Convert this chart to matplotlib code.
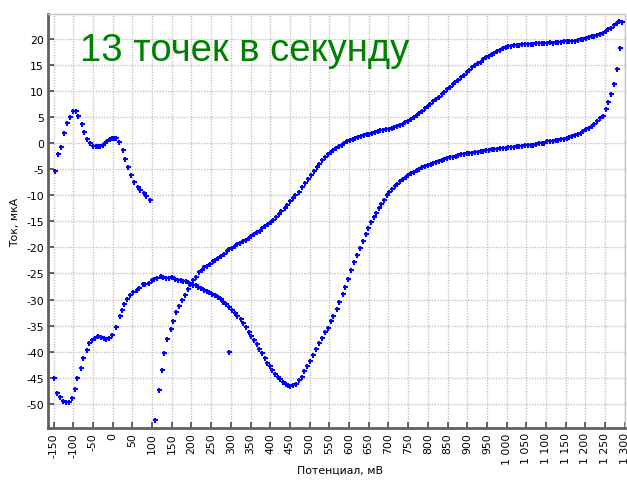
import matplotlib
matplotlib.use("Agg")
import matplotlib.pyplot as plt

# ---- data (mV, uA) ----
start_x = [-146.2, -137.7, -131.8, -123.4, -116.6, -108.1, -99.7, -92.9, -87.0, -78.5, -72.6, -64.1,
           -58.2, -49.7, -43.0, -36.2, -31.2, -25.2, -19.3, -13.5, -7.4, -2.3, 3.6, 9.4, 16.2, 25.6,
           31.5, 40.0, 46.7, 55.0, 63.7, 70.3, 78.9, 85.5, 94.9]
start_y = [-5.3, -2.2, -0.8, 1.9, 3.8, 5.0, 6.1, 6.1, 5.2, 3.6, 2.1, 0.8,
           -0.1, -0.6, -0.6, -0.6, -0.5, -0.3, -0.1, 0.3, 0.7, 0.9, 1.0, 1.0, 0.1, -1.3,
           -3.1, -4.6, -6.1, -7.5, -8.5, -9.0, -9.6, -10.2, -10.9]

fwd_x = [-148.7, -140.2, -133.5, -125.1, -119.1, -110.7, -103.8, -95.4, -89.6, -81.0, -74.4, -65.7,
         -59.1, -51.5, -44.7, -36.3, -29.4, -22.6, -16.0, -8.4, -0.8, 7.9, 18.8, 23.1, 28.9, 36.5,
         44.2, 51.8, 61.2, 67.8, 76.4, 82.2, 91.6,
         99.2, 105.8, 113.5, 122.0, 128.7, 135.5, 143.1, 150.0, 157.6, 165.2, 172.8, 179.4, 186.3,
         194.7, 204.9, 210.9, 217.5, 224.4, 231.2, 238.8, 244.7, 253.0, 260.7, 268.3, 274.4, 281.0,
         288.6, 295.4, 302.3, 309.9, 316.5, 325.1, 331.7, 339.3, 346.2, 352.0, 358.9, 365.7, 372.3,
         379.2, 386.0, 392.6, 398.7, 405.3, 412.2, 419.0, 425.6, 432.5, 440.1, 445.2, 450.3,
         457.1, 464.7, 472.3, 480.0, 486.5, 494.2, 501.0, 509.4, 516.2, 523.9, 530.7, 539.1, 545.9,
         553.6, 560.2, 568.8, 574.6, 584.0, 589.8, 598.2, 604.3, 613.5, 620.3,
         627.9, 634.6, 642.3, 649.0, 655.8, 662.6,
         668.5, 675.3, 682.0, 688.8, 695.6, 702.4, 709.0, 716.0, 723.0, 730.0, 736.6, 743.8, 750.6,
         757.4, 764.5, 771.8, 778.5, 786.2, 792.9, 799.7,
         807.3, 814.1, 820.8, 828.4, 835.2, 842.0, 849.6, 856.4, 863.1, 870.7, 877.5, 884.3, 891.9,
         898.7, 905.4, 913.0, 919.8, 926.6, 934.2, 941.0, 947.7, 955.3, 962.1, 968.9, 976.5, 983.3,
         990.0, 997.6, 1004.4, 1011.2, 1018.8, 1025.6, 1032.3, 1039.9, 1046.7, 1053.5, 1061.1,
         1067.9, 1074.6, 1082.2, 1089.0, 1095.8, 1103.4, 1110.2, 1116.9, 1124.5, 1131.3, 1138.1,
         1145.7, 1152.5, 1159.2, 1166.8, 1173.6, 1180.4, 1188.0, 1194.8, 1201.5, 1209.1, 1215.9,
         1222.7, 1230.3, 1237.1, 1243.8, 1252.2, 1258.2, 1265.0, 1272.6, 1279.3, 1287.8]
fwd_y = [-45.1, -47.9, -48.7, -49.5, -49.7, -49.7, -48.9, -47.1, -45.1, -43.2, -41.1, -39.6,
         -38.4, -37.8, -37.4, -37.0, -37.1, -37.4, -37.5, -37.3, -36.7, -35.3, -33.1, -32.0, -30.8, -29.9,
         -29.1, -28.5, -28.1, -27.7, -27.1, -27.1, -26.9,
         -26.2, -26.1, -25.9, -25.4, -25.7, -25.9, -25.9, -25.7, -26.1, -26.2, -26.3, -26.4, -26.4,
         -26.8, -27.2, -27.3, -27.5, -27.8, -28.1, -28.4, -28.6, -28.9, -29.1, -29.6, -29.9, -30.5,
         -30.9, -31.5, -32.0, -32.5, -33.1, -33.8, -34.5, -35.3, -36.3, -37.0, -37.8, -38.6, -39.5,
         -40.3, -41.2, -42.1, -42.7, -43.4, -44.3, -44.9, -45.3, -45.8, -46.2, -46.4, -46.5,
         -46.3, -46.1, -45.5, -44.8, -43.7, -42.8, -41.7, -40.6, -39.5, -38.3, -37.4, -36.2, -35.4,
         -34.2, -33.2, -31.8, -30.4, -28.9, -27.5, -26.0, -24.4, -22.8, -21.5,
         -20.1, -18.8, -17.4, -16.3, -15.2, -14.1,
         -13.5, -12.5, -11.65, -10.85, -10.05, -9.45, -8.85, -8.3, -7.8, -7.35, -6.95, -6.55, -6.2,
         -5.85, -5.55, -5.25, -4.95, -4.7, -4.45, -4.25,
         -4.0, -3.8, -3.6, -3.4, -3.2, -3.1, -2.9, -2.7, -2.6, -2.5, -2.4, -2.2, -2.1,
         -2.0, -2.0, -1.9, -1.7, -1.7, -1.5, -1.5, -1.4, -1.3, -1.2, -1.2, -1.1, -1.0,
         -1.0, -0.9, -0.8, -0.8, -0.7, -0.6, -0.6, -0.5, -0.4, -0.4, -0.3,
         -0.3, -0.2, -0.1, -0.1, 0.0, 0.3, 0.3, 0.4, 0.5, 0.6, 0.7,
         0.8, 0.9, 1.1, 1.3, 1.5, 1.7, 2.0, 2.2, 2.6, 2.9, 3.3,
         3.7, 4.2, 4.7, 5.2, 6.5, 7.8, 9.3, 11.2, 14.2, 18.1]

rev_x = [1292.0, 1286.1, 1279.3, 1272.6, 1264.9, 1258.2, 1251.4, 1243.8, 1237.0, 1230.3, 1222.6,
         1215.9, 1209.1, 1201.5, 1194.7, 1188.0, 1180.3, 1173.6, 1166.8, 1159.2, 1152.4, 1145.7,
         1138.0, 1131.3, 1124.5, 1116.9, 1110.1, 1103.4, 1095.7, 1089.0, 1082.2, 1074.6, 1067.8,
         1061.1, 1053.4, 1046.7, 1039.9, 1032.3, 1025.5, 1018.8, 1011.1, 1004.4, 997.6, 990.0,
         983.2, 976.5, 968.8, 962.1, 955.3, 947.7, 940.9, 934.2, 926.5, 919.8, 913.0,
         905.4, 898.6, 891.0, 884.2, 877.5, 869.8, 863.1, 856.3, 848.7, 841.9, 835.2, 827.5, 820.8,
         814.0, 806.4, 799.6, 792.9, 785.2, 778.5, 771.7, 764.1, 757.3, 750.6, 743.0, 736.2, 729.4,
         721.8, 715.0, 708.3, 700.6, 693.9, 687.1, 679.5, 672.7, 666.0, 658.3, 651.6, 644.8, 637.2,
         630.4, 623.7, 616.0, 609.3, 602.5, 594.9, 588.1, 581.4, 574.6, 567.8, 560.2, 553.4, 546.7,
         539.0, 532.3, 524.7, 517.9, 510.3, 502.7, 495.9, 488.3, 479.8,
         472.3, 463.7, 457.1, 450.3, 442.6, 436.8, 428.2, 421.6, 414.7, 407.9, 401.3, 393.7, 386.8,
         380.0, 373.4, 366.5, 358.9, 352.0, 345.4, 338.6, 330.2, 323.4, 316.5, 309.9, 303.0, 296.2,
         289.6, 282.0, 275.1, 268.3, 260.7, 254.1, 247.2, 240.4, 232.7, 226.1, 219.3, 210.9,
         204.8, 197.2, 190.6, 183.0, 176.1, 169.3, 161.7, 153.3, 147.5, 138.1, 130.5, 124.6, 117.8,
         107.6]
rev_y = [23.2, 23.4, 23.0, 22.5, 22.0, 21.8, 21.5, 21.1, 20.9, 20.6, 20.4,
         20.4, 20.2, 20.1, 20.0, 19.9, 19.7, 19.6, 19.5, 19.5, 19.5, 19.5,
         19.4, 19.3, 19.3, 19.2, 19.3, 19.2, 19.2, 19.1, 19.1, 19.1, 19.0,
         19.0, 19.0, 19.0, 18.9, 18.8, 18.8, 18.8, 18.6, 18.5, 18.3, 18.1,
         17.9, 17.6, 17.3, 17.0, 16.7, 16.4, 16.0, 15.6, 15.3, 14.9, 14.5,
         14.0, 13.5, 13.1, 12.6, 12.1, 11.6, 11.2, 10.8, 10.3, 9.8, 9.3, 8.8, 8.4,
         8.0, 7.5, 7.1, 6.7, 6.2, 5.8, 5.4, 4.9, 4.6, 4.2, 4.0, 3.7, 3.5,
         3.3, 3.1, 2.9, 2.7, 2.6, 2.5, 2.4, 2.2, 2.1, 2.0, 1.8, 1.7, 1.5,
         1.3, 1.2, 1.0, 0.8, 0.6, 0.4, 0.0, -0.3, -0.6, -1.0, -1.3, -1.8, -2.2,
         -2.7, -3.3, -4.0, -4.7, -5.4, -6.1, -6.9, -7.7, -8.5,
         -9.3, -10.0, -10.6, -11.2, -11.9, -12.5, -13.1, -13.7, -14.2, -14.7, -15.1, -15.6, -16.0,
         -16.3, -16.8, -17.1, -17.5, -17.9, -18.3, -18.5, -18.8, -19.1, -19.3, -19.7, -20.1, -20.4,
         -20.7, -21.3, -21.6, -22.0, -22.4, -22.7, -23.1, -23.5, -23.8, -24.3, -24.8, -25.7,
         -26.2, -27.0, -28.0, -29.1, -30.0, -31.2, -32.4, -34.1, -35.6, -37.6, -40.3, -43.4, -47.4,
         -53.1]

odd_x = [295.4]
odd_y = [-40.1]

x_ticks = list(range(-150, 1301, 50))
x_tick_labels = ["-150", "-100", "-50", "0", "50", "100", "150", "200", "250", "300", "350",
                 "400", "450", "500", "550", "600", "650", "700", "750", "800", "850", "900",
                 "950", "1 000", "1 050", "1 100", "1 150", "1 200", "1 250", "1 300"]
y_ticks = list(range(-50, 21, 5))
y_tick_labels = [str(v) for v in y_ticks]

title_text = "13 точек в секунду"
x_label = "Потенциал, мВ"
y_label = "Ток, мкА"

# ---- figure ----
W, H = 627, 481
fig = plt.figure(figsize=(W / 100, H / 100), dpi=100)
fig.patch.set_facecolor("white")
L, R, T, B = 48, 625, 15, 429
ax = fig.add_axes([L / W, 1 - B / H, (R - L) / W, (B - T) / H])
ax.set_xlim(-164, 1300.5)
ax.set_ylim(-54.6, 24.7)

for xs, ys in ((start_x, start_y), (fwd_x, fwd_y), (rev_x, rev_y), (odd_x, odd_y)):
    ax.plot(xs, ys, linestyle="none", marker="+", markersize=3.6, markeredgewidth=1.5,
            color="#0000ff", zorder=3)

ax.set_xticks(x_ticks)
ax.set_xticklabels(x_tick_labels, rotation=90, fontsize=7.8, family="DejaVu Sans")
ax.set_yticks(y_ticks)
ax.set_yticklabels(y_tick_labels, fontsize=7.8, family="DejaVu Sans")
ax.tick_params(direction="in", length=4, width=1.3, color="#555555", pad=3, labelcolor="black")

ax.grid(True, color="#c4c4c4", linestyle=(0, (1, 1)), linewidth=1.0, zorder=0)
for s in ("left", "bottom"):
    ax.spines[s].set_color("#606060")
    ax.spines[s].set_linewidth(2.0)
for s in ("top", "right"):
    ax.spines[s].set_color("#c4c4c4")
    ax.spines[s].set_linestyle((0, (1, 1)))
    ax.spines[s].set_linewidth(1.0)

ax.set_ylabel(y_label, fontsize=7.8, family="DejaVu Sans", labelpad=4)
fig.text(340 / W, 1 - 471 / H, x_label, fontsize=7.8, family="DejaVu Sans",
         ha="center", va="center")

fig.text(80 / W, 1 - 61 / H, title_text, color="#008000", fontsize=27.5,
         family="Liberation Sans", va="baseline", ha="left")

fig.savefig("out.png", dpi=100, facecolor="white")
